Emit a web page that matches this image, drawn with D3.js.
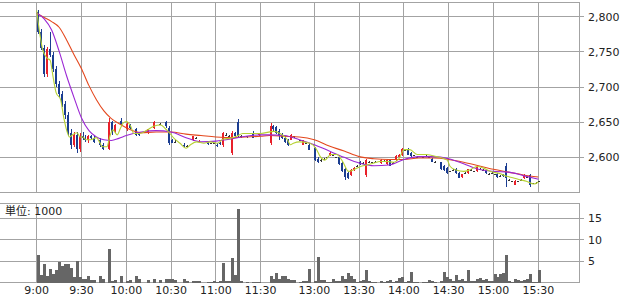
<!DOCTYPE html>
<html>
<head>
<meta charset="utf-8">
<script src="https://d3js.org/d3.v7.min.js"></script>
<title>Intraday chart</title>
<style>
  body { margin: 0; background: #fff; }
  svg { display: block; }
  text { font-family: "DejaVu Sans", "Noto Sans CJK JP", sans-serif; font-size: 11px; fill: #222; }
</style>
</head>
<body>
<svg width="622" height="297"></svg>
<script>
// 2-minute bars: morning 9:00-11:28, afternoon 12:30-15:30 (null = no trade)
const open = [
  2806,2778,2756,2718,2754,2746,2726,2704,2690,2676,
  2660,2634,2618,2632,2612,2630,2628,2624,2630,2628,
  null,2624,2618,null,2612,2650,2636,null,2652,null,
  2640,2646,null,2640,2634,null,null,2634,null,2642,
  null,2648,null,2650,2642,2624,2622,null,null,2618,
  2616,null,2624,2628,2622,null,null,2622,2620,2620,
  2618,2620,2618,2632,2630,2606,2634,2650,2630,null,
  2630,null,2635,2630,2632,
  2620,2645,2643,2638,2632,2628,2625,2625,2630,null,
  2624,2618,2620,2618,null,2613,2598,2596,2598,2600,
  2603,2604,2600,2600,2592,2584,2578,2575,2582,2588,
  2594,2592,2575,2594,2593,2594,null,2592,2595,2590,
  2596,2592,2596,2600,2603,2610,2612,2606,2603,2601,
  null,2600,2602,2600,2598,2594,null,2593,2588,2585,
  2580,2582,2584,2578,2572,2578,2578,2582,2580,2580,
  2584,2582,2582,2577,2578,2576,2577,2574,2576,2588,
  2568,2566,2561,2566,2568,2570,2572,2575,2563,2564,
  2566];
const high = [
  2810,2782,2760,2757,2778,2750,2730,2708,2694,2680,
  2664,2640,2636,2636,2634,2636,2632,2632,2632,2630,
  null,2628,2620,null,2656,2652,2648,null,2656,null,
  2650,2648,null,2642,2636,null,null,2641,null,2652,
  null,2649,null,2651,2644,2626,2624,null,null,2620,
  2617,null,2631,2629,2624,null,null,2623,2621,2620,
  2620,2622,2636,2634,2632,2638,2636,2654,2632,null,
  2631,null,2637,2631,2634,
  2649,2646,2644,2640,2634,2630,2626,2633,2631,null,
  2625,2625,2621,2620,null,2614,2600,2598,2599,2601,
  2607,2605,2601,2601,2593,2585,2579,2583,2586,2589,
  2595,2593,2598,2595,2594,2595,null,2597,2596,2597,
  2597,2593,2603,2605,2613,2611,2613,2607,2604,2602,
  null,2601,2603,2601,2599,2595,null,2594,2589,2586,
  2581,2583,2585,2579,2577,2579,2584,2583,2581,2587,
  2585,2583,2583,2578,2579,2577,2578,2575,2577,2592,
  2569,2567,2568,2567,2569,2576,2573,2576,2564,2565,
  2567];
const low = [
  2775,2752,2714,2714,2742,2722,2700,2686,2672,2655,
  2630,2612,2615,2606,2608,2624,2622,2620,2626,2620,
  null,2615,2610,null,2610,2632,2634,null,2644,null,
  2638,2640,null,2630,2630,null,null,2633,null,2641,
  null,2646,null,2642,2617,2620,2620,null,null,2614,
  2615,null,2623,2627,2620,null,null,2618,2619,2619,
  2614,2618,2615,2630,2628,2603,2628,2627,2628,null,
  2628,null,2627,2629,2630,
  2618,2638,2633,2625,2626,2620,2616,2624,2628,null,
  2623,2617,2619,2610,null,2595,2592,2594,2596,2599,
  2602,2603,2599,2589,2579,2568,2569,2574,2581,2587,
  2589,2591,2572,2593,2592,2593,null,2591,2594,2589,
  2587,2591,2595,2599,2602,2609,2603,2601,2602,2600,
  null,2599,2601,2599,2593,2593,null,2582,2581,2577,
  2579,2581,2577,2570,2571,2577,2577,2581,2579,2579,
  2583,2581,2577,2576,2577,2575,2571,2573,2572,2558,
  2567,2565,2560,2565,2567,2569,2571,2558,2562,2563,
  2565];
const close = [
  2778,2756,2718,2754,2746,2726,2704,2690,2676,2660,
  2634,2618,2632,2612,2630,2628,2624,2630,2628,2622,
  null,2618,2612,null,2650,2636,2646,null,2646,null,
  2648,2642,null,2632,2632,null,null,2640,null,2650,
  null,2648,null,2644,2620,2621,2622,null,null,2616,
  2616,null,2630,2628,2623,null,null,2619,2620,2620,
  2616,2619,2634,2632,2630,2634,2630,2630,2630,null,
  2629,null,2628,2630,2633,
  2645,2640,2635,2630,2628,2622,2618,2632,2630,null,
  2624,2624,2620,2611,null,2596,2594,2596,2598,2600,
  2606,2604,2600,2590,2580,2572,2571,2582,2585,2588,
  2590,2592,2596,2594,2593,2594,null,2596,2595,2596,
  2588,2592,2602,2604,2612,2610,2604,2602,2603,2601,
  null,2600,2602,2600,2594,2594,null,2583,2582,2578,
  2580,2582,2578,2571,2576,2578,2583,2582,2580,2586,
  2584,2582,2578,2577,2578,2576,2572,2574,2573,2570,
  2568,2566,2567,2566,2568,2575,2572,2560,2563,2564,
  2566];
// volume in thousands of shares
const volume = [
  6.4,1.7,4.4,1.6,3.2,2.0,3.0,4.8,3.9,4.3,
  4.4,3.3,1.3,5.0,1.3,0.9,0.8,1.6,0.5,0.5,
  0,1.5,0.8,0,7.8,0.4,0.6,0,1.5,0,
  0.3,0.5,0,1.6,0.8,0,0,0.5,0,0.8,
  0,0.5,0,0.8,0.8,0.8,0.5,0,0,0.8,
  0.3,0,0.3,0.3,0.3,0,0,0.2,0.2,0.3,
  0.2,0.3,4.6,0.3,0.3,5.8,1.7,17.1,0.3,0,
  0.2,0,0.2,0.2,0.1,
  1.5,0.7,2.1,0.8,1.4,1.6,0.8,0.5,0.6,0,
  0.2,0.3,0.3,3.1,0,0.4,5.9,0.6,0.6,0.2,
  0.2,0.7,0.3,0.4,1.5,0.8,2.3,1.5,0.8,0.2,
  0.3,0.5,2.9,0.3,0.2,0.2,0,0.3,0.2,0.3,
  0.5,0.2,0.3,1.0,1.2,0.2,0.4,2.4,0.2,0.2,
  0,0.2,0.2,0.5,0.3,0.2,0,0.3,2.4,1.3,
  0.8,0.3,1.8,0.6,0.8,0.3,2.9,0.3,0.3,0.8,
  1.0,0.6,0.8,0.3,0.3,2.0,1.3,2.0,2.3,6.4,
  0.3,0.2,0.8,0.6,0.3,0.6,0.8,2.0,0.2,0.2,
  2.9];

// moving averages
const maShort = [
  ["9:00",2809],["9:02",2777],["9:04",2753],["9:07",2741],["9:09",2738],["9:11",2714],
  ["9:13",2692],["9:16",2682],["9:18",2658],["9:20",2639],["9:22",2629],["9:24",2632],
  ["9:27",2635],["9:29",2629],["9:31",2629],["9:33",2625],["9:36",2625],["9:40",2628],
  ["9:42",2622],["9:44",2615],["9:47",2615],["9:49",2630],["9:51",2639],["9:54",2632],
  ["9:56",2641],["9:58",2649],["10:00",2651],["10:03",2644],["10:05",2634],["10:09",2634],
  ["10:14",2639],["10:18",2644],["10:23",2646],["10:26",2641],["10:28",2637],["10:32",2627],
  ["10:36",2620],["10:40",2613],["10:43",2618],["10:47",2622],["10:52",2620],["10:56",2622],
  ["11:01",2620],["11:05",2626],["11:09",2627],["11:14",2630],["11:18",2634],["11:25",2634],
  ["11:30",2634],["12:33",2637],["12:37",2634],["12:42",2625],["12:44",2618],["12:46",2620],
  ["12:50",2622],["12:57",2620],["13:01",2613],["13:04",2601],["13:07",2596],["13:11",2604],
  ["13:15",2604],["13:19",2594],["13:23",2580],["13:26",2582],["13:31",2587],["13:35",2589],
  ["13:40",2592],["13:44",2594],["13:49",2594],["13:53",2593],["13:57",2599],["14:00",2611],
  ["14:04",2611],["14:09",2604],["14:15",2604],["14:22",2601],["14:29",2596],["14:31",2587],
  ["14:35",2582],["14:40",2580],["14:44",2582],["14:49",2587],["14:53",2585],["14:58",2580],
  ["15:04",2577],["15:09",2573],["15:13",2571],["15:18",2568],["15:22",2566],["15:27",2562],
  ["15:30",2565]];
const maMid = [
  ["9:00",2805],["9:05",2797],["9:10",2781],["9:15",2751],["9:20",2716],["9:25",2685],
  ["9:30",2656],["9:35",2638],["9:40",2629],["9:45",2625],["9:50",2624],["9:55",2627],
  ["10:00",2631],["10:10",2636],["10:20",2638],["10:30",2636],["10:40",2628],["10:50",2622],
  ["11:00",2623],["11:10",2626],["11:20",2630],["11:30",2632],["12:30",2632],["12:40",2631],
  ["12:50",2625],["13:00",2618],["13:10",2609],["13:20",2600],["13:30",2592],["13:40",2588],
  ["13:50",2589],["14:00",2597],["14:10",2601],["14:20",2601],["14:30",2598],["14:40",2591],
  ["14:50",2583],["15:00",2580],["15:10",2579],["15:20",2574],["15:30",2569]];
const maLong = [
  ["9:00",2805],["9:05",2799],["9:10",2793],["9:15",2785],["9:20",2767],["9:25",2746],
  ["9:30",2726],["9:35",2702],["9:40",2682],["9:45",2666],["9:50",2655],["9:55",2648],
  ["10:00",2642],["10:10",2635],["10:20",2636],["10:30",2636],["10:40",2633],["10:50",2631],
  ["11:00",2629],["11:10",2628],["11:20",2629],["11:30",2630],["12:30",2631],["12:40",2630],
  ["12:50",2629],["13:00",2625],["13:10",2616],["13:20",2609],["13:30",2601],["13:40",2598],
  ["13:50",2597],["14:00",2597],["14:10",2599],["14:20",2599],["14:30",2597],["14:40",2593],
  ["14:50",2588],["15:00",2583],["15:10",2579],["15:20",2575],["15:30",2572]];

const priceTicks = [2600, 2650, 2700, 2750, 2800];
const volTicks = [5, 10, 15];
const timeTicks = ["9:00","9:30","10:00","10:30","11:00","11:30","13:00","13:30","14:00","14:30","15:00","15:30"];

// minutes since 9:00
const toMin = s => { const [h, m] = s.split(":").map(Number); return h * 60 + m - 540; };
// slot start times of the 2-minute bars
const slots = d3.range(0, 150, 2).concat(d3.range(210, 392, 2));

const svg = d3.select("svg");
const gridColor = "#a3a3a3";

// lunch break squeezed to a small gap
const x = d3.scaleLinear().domain([0, 150, 210, 390]).range([36.7, 260.7, 269.5, 538.3]);
const y = d3.scaleLinear().domain([2550, 2819.5]).range([192.5, 3]);
const yv = d3.scaleLinear().domain([0, 18.4]).range([282.5, 203.5]);

const pTop = 2.5, pBot = 192.5, vTop = 203.5, vBot = 282.5, right = 579.5;

const grid = svg.append("g").attr("shape-rendering", "crispEdges")
  .attr("stroke", gridColor).attr("stroke-width", 1).attr("fill", "none");

// panel frames
grid.append("rect").attr("x", -1).attr("y", pTop).attr("width", right + 1).attr("height", pBot - pTop);
grid.append("rect").attr("x", -1).attr("y", vTop).attr("width", right + 1).attr("height", vBot - vTop);

// horizontal grid and right ticks
grid.selectAll(".hp").data(priceTicks).join("line")
  .attr("x1", 0).attr("x2", right + 4.5)
  .attr("y1", d => y(d)).attr("y2", d => y(d));
grid.selectAll(".hv").data(volTicks).join("line")
  .attr("x1", 0).attr("x2", right + 4.5)
  .attr("y1", d => yv(d)).attr("y2", d => yv(d));

// vertical grid
timeTicks.forEach(t => {
  const xx = x(toMin(t));
  grid.append("line").attr("x1", xx).attr("x2", xx).attr("y1", pTop).attr("y2", pBot);
  grid.append("line").attr("x1", xx).attr("x2", xx).attr("y1", vTop).attr("y2", vBot);
});

// labels
svg.selectAll(".pl").data(priceTicks).join("text")
  .attr("x", 588).attr("y", d => y(d) + 4).text(d => d3.format(",")(d));
svg.selectAll(".vl").data(volTicks).join("text")
  .attr("x", 588).attr("y", d => yv(d) + 4).text(d => d);
svg.selectAll(".tl").data(timeTicks).join("text")
  .attr("x", d => x(toMin(d))).attr("y", 293.5).attr("text-anchor", "middle").text(d => d);
svg.append("text").attr("x", 5).attr("y", 215).text("単位: 1000");

// volume bars
const bars = slots.map((t, i) => ({ t, o: open[i], h: high[i], l: low[i], c: close[i], v: volume[i] }));
svg.append("g").attr("shape-rendering", "crispEdges").attr("fill", "#666")
  .selectAll("rect").data(bars.filter(d => d.v > 0)).join("rect")
  .attr("x", d => Math.round(x(d.t)))
  .attr("width", 2.6)
  .attr("y", d => yv(d.v))
  .attr("height", d => yv(0) - yv(d.v));

// candles
const up = "#e8202a", down = "#1b3d91", flat = "#333";
const colorOf = d => d.c > d.o ? up : d.c < d.o ? down : flat;
const cg = svg.append("g").attr("shape-rendering", "crispEdges");
const candles = cg.selectAll("g").data(bars.filter(d => d.o != null)).join("g");
candles.append("rect")
  .attr("x", d => Math.round(x(d.t)) + 1)
  .attr("width", 1)
  .attr("y", d => y(d.h))
  .attr("height", d => Math.max(1, y(d.l) - y(d.h)))
  .attr("fill", colorOf);
candles.append("rect")
  .attr("x", d => Math.round(x(d.t)))
  .attr("width", 2)
  .attr("y", d => y(Math.max(d.o, d.c)))
  .attr("height", d => Math.max(1, Math.abs(y(d.o) - y(d.c))))
  .attr("fill", colorOf);

// moving average lines
const maLine = d3.line()
  .x(d => x(toMin(d[0])))
  .y(d => y(d[1]))
  .curve(d3.curveMonotoneX);
[[maLong, "#e4481e"], [maMid, "#9b27d4"], [maShort, "#b5d132"]].forEach(([data, col]) => {
  svg.append("path").attr("d", maLine(data))
    .attr("fill", "none").attr("stroke", col).attr("stroke-width", 1.1);
});
</script>
</body>
</html>
